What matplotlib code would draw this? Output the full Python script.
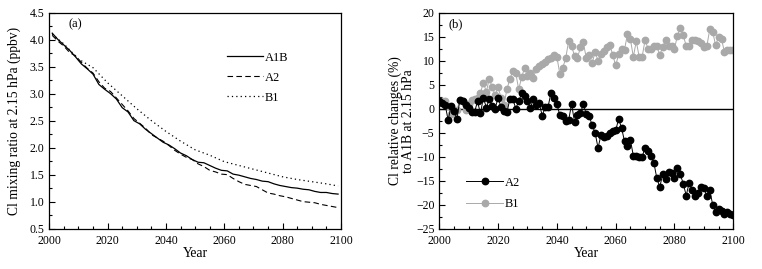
import numpy as np
import matplotlib
matplotlib.use("Agg")
import matplotlib.pyplot as plt
from matplotlib.ticker import MultipleLocator, FormatStrFormatter

plt.rcParams["font.family"] = ["Liberation Serif", "DejaVu Serif"]
plt.rcParams["font.size"] = 8.5

# panel (a): Cl mixing ratio (ppbv)
years_a1b = list(range(2001, 2100, 2))
a1b = [4.12, 4.00, 3.90, 3.80, 3.68, 3.55, 3.46, 3.36, 3.17, 3.08,
       3.00, 2.90, 2.74, 2.66, 2.50, 2.44, 2.34, 2.26, 2.18, 2.10,
       2.05, 1.98, 1.90, 1.85, 1.78, 1.73, 1.72, 1.67, 1.62, 1.58,
       1.57, 1.51, 1.49, 1.46, 1.43, 1.41, 1.38, 1.37, 1.33, 1.30,
       1.28, 1.26, 1.25, 1.23, 1.22, 1.19, 1.17, 1.17, 1.15, 1.14]
years_a2 = list(range(2001, 2100, 2))
a2 = [4.08, 3.97, 3.88, 3.76, 3.70, 3.58, 3.47, 3.38, 3.22, 3.10,
      3.04, 2.92, 2.80, 2.68, 2.54, 2.45, 2.36, 2.24, 2.18, 2.12,
      2.04, 1.95, 1.88, 1.82, 1.78, 1.70, 1.65, 1.58, 1.55, 1.51,
      1.50, 1.43, 1.37, 1.32, 1.30, 1.28, 1.22, 1.16, 1.14, 1.11,
      1.09, 1.06, 1.03, 1.00, 0.99, 0.98, 0.95, 0.93, 0.91, 0.89]
years_b1 = [2001, 2005, 2010, 2015, 2020, 2025, 2030, 2035, 2040, 2045,
            2050, 2055, 2060, 2065, 2070, 2075, 2080, 2085, 2090, 2095, 2099]
b1 = [4.10, 3.92, 3.64, 3.48, 3.20, 2.96, 2.72, 2.50, 2.30, 2.12,
      1.96, 1.86, 1.74, 1.67, 1.60, 1.53, 1.46, 1.41, 1.37, 1.33, 1.29]

# panel (b): relative change to A1B (%)
years_rel = list(range(2000, 2101))
rel_a2 = [1.5, 1.2, 0.8, -2.4, 0.5, -0.5, -2.1, 1.8, 1.6, 0.8,
          0.2, -0.7, -0.7, 1.5, -1.0, 2.3, 0.2, 2.0, 0.5, 0.0,
          2.3, 0.3, -0.5, -0.8, 2.0, 2.1, 0.0, 1.5, 3.2, 2.7,
          1.5, 0.2, 2.0, 0.7, 1.2, -1.5, 0.3, 0.4, 3.3, 2.2,
          1.0, -1.4, -1.6, -2.5, -2.4, 1.0, -2.8, -1.3, -1.0, 1.0,
          -1.2, -1.5, -3.5, -5.0, -8.2, -5.5, -6.0, -5.8, -5.0, -4.7,
          -4.5, -2.2, -4.0, -6.8, -7.7, -6.5, -9.8, -9.8, -10.0, -10.0,
          -8.2, -8.8, -9.8, -11.3, -14.5, -16.3, -13.7, -14.7, -13.3, -13.5,
          -14.5, -12.3, -13.7, -15.7, -18.1, -15.4, -17.0, -18.3, -17.5, -16.3,
          -16.5, -18.2, -17.0, -20.0, -21.6, -21.0, -21.3, -22.0, -21.5, -22.0,
          -22.2]
rel_b1 = [1.5, 1.5, 1.5, 0.5, -1.2, -0.8, -0.3, 1.8, 1.5, -0.2,
          1.0, 1.8, 2.0, 2.3, 3.3, 5.4, 3.5, 6.2, 4.5, 2.8,
          4.5, 2.3, 0.8, 4.0, 6.2, 7.8, 7.5, 4.0, 6.5, 8.5,
          6.8, 7.5, 6.3, 8.3, 8.8, 9.3, 9.8, 10.3, 10.5, 11.2,
          10.8, 7.2, 8.5, 10.5, 14.1, 13.0, 11.0, 10.5, 12.8, 13.8,
          10.5, 11.2, 9.5, 11.8, 10.0, 11.3, 12.0, 12.8, 13.3, 11.2,
          9.0, 11.3, 12.5, 12.3, 15.5, 14.5, 10.8, 14.0, 10.8, 10.8,
          14.3, 12.5, 12.5, 13.0, 13.0, 11.2, 12.8, 14.3, 13.0, 13.0,
          12.5, 15.2, 16.8, 15.3, 13.0, 13.0, 14.3, 14.3, 14.0, 13.7,
          12.8, 13.0, 16.5, 16.0, 13.2, 15.0, 14.5, 11.8, 12.3, 12.3,
          12.3]

GRAY = "#a9a9a9"
LABEL_SIZE = 9.8

fig = plt.figure(figsize=(7.62, 2.69), dpi=100)
ax1 = fig.add_axes([0.0647, 0.150, 0.3828, 0.803])
ax2 = fig.add_axes([0.5765, 0.150, 0.3858, 0.803])

ax1.plot(years_a1b, a1b, color="black", linestyle="-", linewidth=0.9, label="A1B")
ax1.plot(years_a2, a2, color="black", linestyle=(0, (5, 3)), linewidth=0.8, label="A2")
ax1.plot(years_b1, b1, color="black", linestyle=(0, (1, 2.5)), linewidth=0.9, label="B1")
ax1.set_xlim(2000, 2100)
ax1.set_ylim(0.5, 4.5)
ax1.xaxis.set_major_locator(MultipleLocator(20))
ax1.xaxis.set_minor_locator(MultipleLocator(5))
ax1.yaxis.set_major_locator(MultipleLocator(0.5))
ax1.yaxis.set_minor_locator(MultipleLocator(0.25))
ax1.yaxis.set_major_formatter(FormatStrFormatter("%.1f"))
ax1.set_xlabel("Year", labelpad=0, fontsize=LABEL_SIZE)
ax1.set_ylabel("Cl mixing ratio at 2.15 hPa (ppbv)", labelpad=6,
               fontsize=LABEL_SIZE)
ax1.text(0.065, 0.93, "(a)", transform=ax1.transAxes, fontsize=9)
ax1.legend(loc="upper left", bbox_to_anchor=(0.61, 0.82), frameon=False,
           handlelength=2.9, handletextpad=0.1, labelspacing=0.65,
           borderaxespad=0, borderpad=0, fontsize=9)

ax2.axhline(0, color="black", linewidth=1.0)
ax2.plot(years_rel, rel_a2, color="black", marker="o", markersize=4.6,
         linewidth=0.7, label="A2", zorder=3)
ax2.plot(years_rel, rel_b1, color=GRAY, marker="o", markersize=4.6,
         linewidth=0.7, label="B1", zorder=2)
ax2.set_xlim(2000, 2100)
ax2.set_ylim(-25, 20)
ax2.xaxis.set_major_locator(MultipleLocator(20))
ax2.xaxis.set_minor_locator(MultipleLocator(5))
ax2.yaxis.set_major_locator(MultipleLocator(5))
ax2.yaxis.set_minor_locator(MultipleLocator(2.5))
ax2.set_xlabel("Year", labelpad=0, fontsize=LABEL_SIZE)
ax2.set_ylabel("Cl relative changes (%)\nto A1B at 2.15 hPa", labelpad=1,
               linespacing=1.0, fontsize=LABEL_SIZE)
ax2.text(0.03, 0.93, "(b)", transform=ax2.transAxes, fontsize=9)
ax2.legend(loc="upper left", bbox_to_anchor=(0.09, 0.24), frameon=False,
           handlelength=3.0, handletextpad=0.1, labelspacing=0.75,
           borderaxespad=0, borderpad=0, fontsize=9)

for ax in (ax1, ax2):
    ax.tick_params(which="both", direction="in", top=False, right=False,
                   labelsize=8.5)
    ax.tick_params(axis="x", which="major", pad=4.5)
    ax.tick_params(axis="y", which="major", pad=3.5)
    ax.tick_params(which="major", length=4, width=0.8)
    ax.tick_params(which="minor", length=2, width=0.8)
    for sp in ax.spines.values():
        sp.set_linewidth(0.9)

fig.savefig("out.png", dpi=100)
